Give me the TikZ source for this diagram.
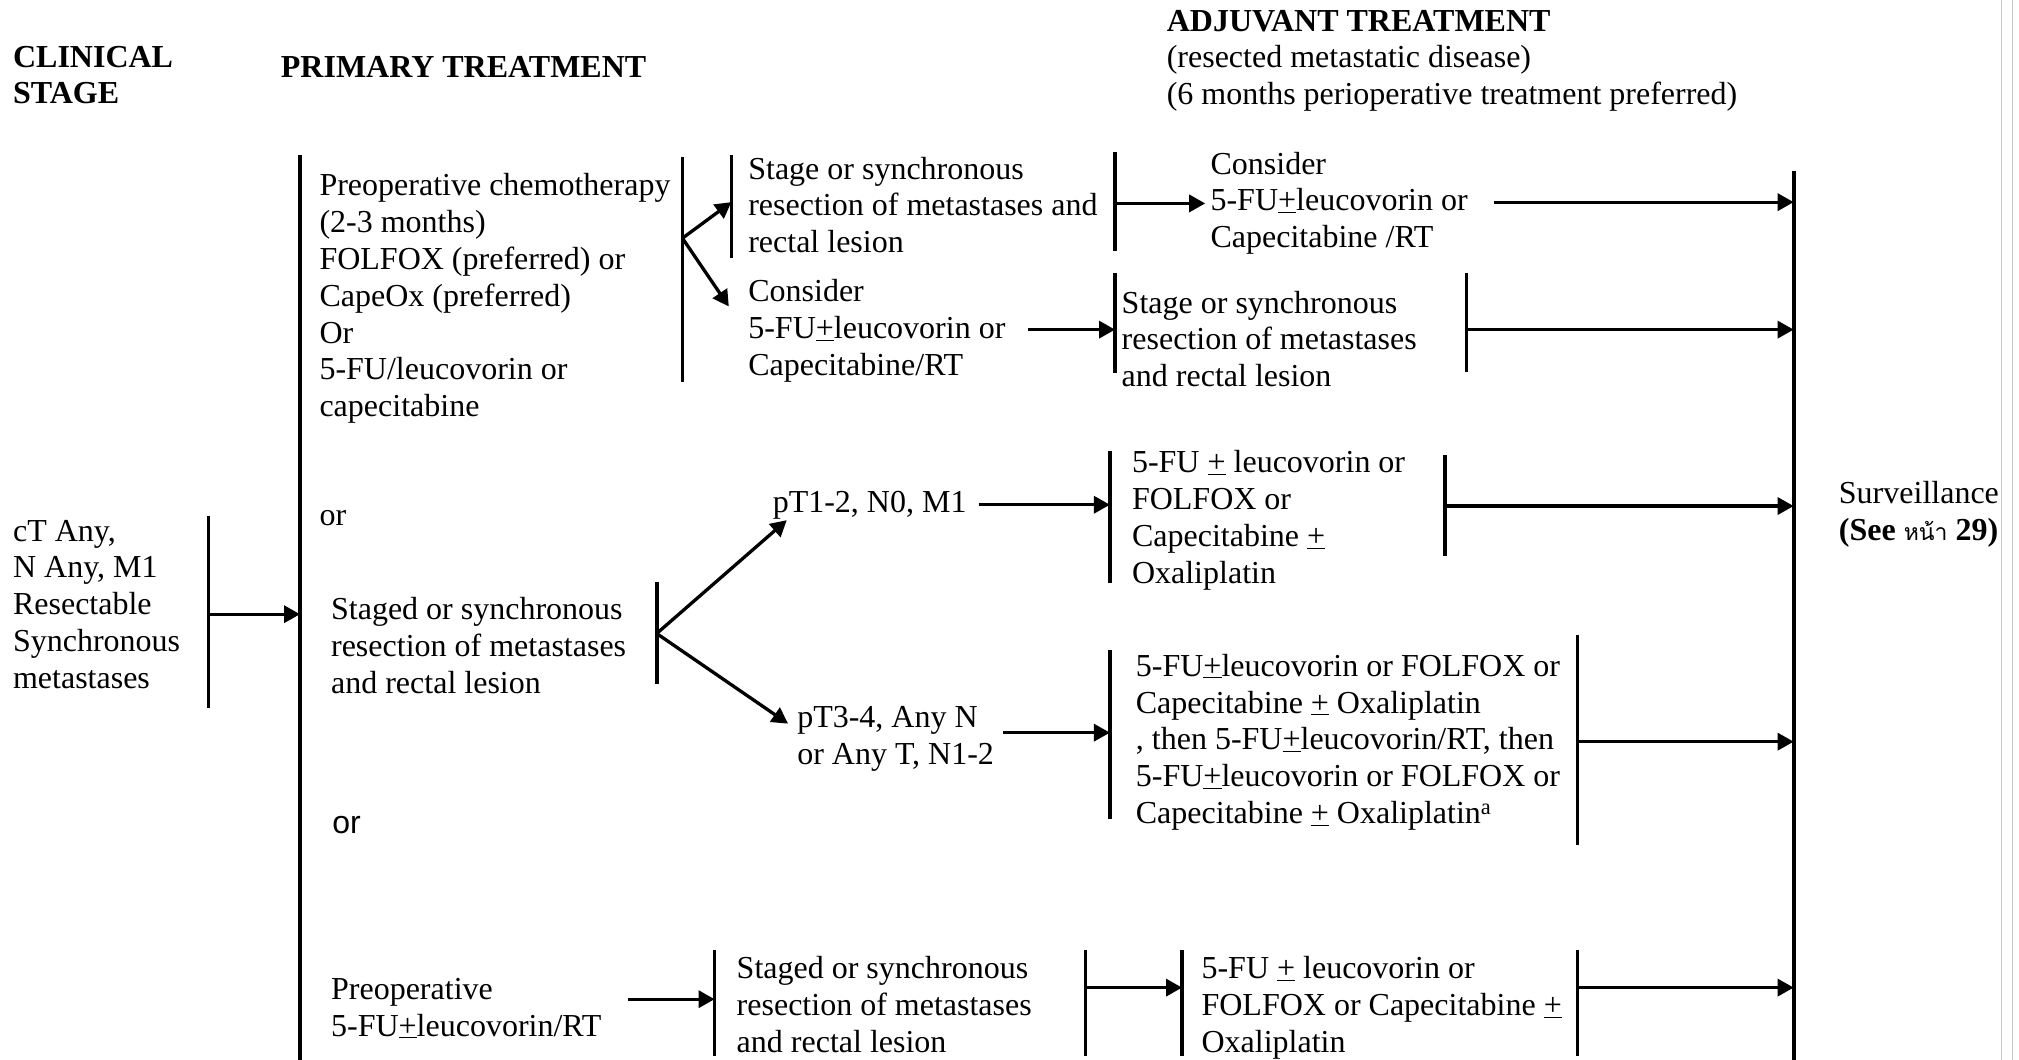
\documentclass[tikz,border=0pt]{standalone}
\usepackage{fontspec}
\setmainfont{Liberation Serif}
\newfontfamily\arialfont{Liberation Sans}
\newfontfamily\thaifont[Script=Thai]{Loma}
\usetikzlibrary{arrows.meta}

\newcommand{\upl}{\underline{+}}

\tikzset{
  txt/.style={anchor=north west, inner sep=0pt, align=left,
              font=\fontsize{32}{36.8}\selectfont},
  bar/.style={line width=3.7pt},
  arr/.style={line width=3.3pt, -{Triangle[length=16pt,width=17pt]}},
  pageline/.style={line width=1pt, draw=black!22},
}

\begin{document}
\begin{tikzpicture}[x=1.2876pt, y=-1.2876pt]
  % canvas
  \fill[white] (0,0) rectangle (1568,823);
  \path[use as bounding box] (0,0) rectangle (1568,823);

  % page edge lines on the right
  \coordinate (pe1t) at (1554.6,0);  \coordinate (pe1b) at (1554.6,823);
  \coordinate (pe2t) at (1563.1,0);  \coordinate (pe2b) at (1563.1,823);
  \draw[pageline] (pe1t) -- (pe1b);
  \draw[pageline] (pe2t) -- (pe2b);

  % ---------- column headings ----------
  \node[txt] (hclin) at (10,32)  {\strut\textbf{CLINICAL}\\\textbf{STAGE}};
  \node[txt] (hprim) at (218,40) {\strut\textbf{PRIMARY TREATMENT}};
  \node[txt] (hadj)  at (906,4)  {\strut\textbf{ADJUVANT TREATMENT}\\
      (resected metastatic disease)\\
      (6 months perioperative treatment preferred)};

  % ---------- text blocks ----------
  \node[txt] (stage) at (10,400)
    {\strut cT Any,\\N Any, M1\\Resectable\\Synchronous\\metastases};

  \node[txt] (chemo) at (248,132)
    {\strut Preoperative chemotherapy\\(2-3 months)\\FOLFOX (preferred) or\\
     CapeOx (preferred)\\Or\\5-FU/leucovorin or\\capecitabine};
  \node[txt] (or1) at (248,388) {\strut or};
  \node[txt] (staged) at (257,461)
    {\strut Staged or synchronous\\resection of metastases\\and rectal lesion};
  \node[txt] (or2) at (258,627) {\strut\arialfont or};
  \node[txt] (prert) at (257,756)
    {\strut Preoperative\\5-FU\upl leucovorin/RT};

  \node[txt] (resA) at (581,119)
    {\strut Stage or synchronous\\resection of metastases and\\rectal lesion};
  \node[txt] (consA) at (581,214)
    {\strut Consider\\5-FU\upl leucovorin or\\Capecitabine/RT};
  \node[txt] (consB) at (940,115)
    {\strut Consider\\5-FU\upl leucovorin or\\Capecitabine /RT};
  \node[txt] (resB) at (871,223)
    {\strut Stage or synchronous\\resection of metastases\\and rectal lesion};

  \node[txt] (pTa) at (600,378) {\strut pT1-2, N0, M1};
  \node[txt] (fuA) at (879,347)
    {\strut 5-FU \upl{} leucovorin or\\FOLFOX or\\Capecitabine \upl\\Oxaliplatin};
  \node[txt] (pTb) at (619,545)
    {\strut pT3-4, Any N\\or Any T, N1-2};
  \node[txt] (fuB) at (882,505)
    {\strut 5-FU\upl leucovorin or FOLFOX or\\
     Capecitabine \upl{} Oxaliplatin\\
     , then 5-FU\upl leucovorin/RT, then\\
     5-FU\upl leucovorin or FOLFOX or\\
     Capecitabine \upl{} Oxaliplatin\textsuperscript{a}};

  \node[txt] (resC) at (572,740)
    {\strut Staged or synchronous\\resection of metastases\\and rectal lesion};
  \node[txt] (fuC) at (933,740)
    {\strut 5-FU \upl{} leucovorin or\\FOLFOX or Capecitabine \upl\\Oxaliplatin};

  \node[txt] (surv) at (1428,371)
    {\strut Surveillance\\\textbf{(See {\thaifont\mdseries\fontsize{23}{26}\selectfont หน้า} 29)}};

  % ---------- brackets ----------
  \coordinate (b1t) at (162,401);   \coordinate (b1b) at (162,550);
  \coordinate (b2t) at (233,120);   \coordinate (b2b) at (233,823);
  \coordinate (b3t) at (530,122);   \coordinate (b3b) at (530,297);
  \coordinate (b4t) at (568,120);   \coordinate (b4b) at (568,200);
  \coordinate (b5t) at (866,118);   \coordinate (b5b) at (866,195);
  \coordinate (b6t) at (866,212);   \coordinate (b6b) at (866,290);
  \coordinate (b7t) at (1139,212);  \coordinate (b7b) at (1139,289);
  \coordinate (b8t) at (510,452);   \coordinate (b8b) at (510,531);
  \coordinate (b9t) at (862,350);   \coordinate (b9b) at (862,453);
  \coordinate (b10t) at (1122,353); \coordinate (b10b) at (1122,432);
  \coordinate (b11t) at (862,505);  \coordinate (b11b) at (862,636);
  \coordinate (b12t) at (1225,493); \coordinate (b12b) at (1225,656);
  \coordinate (b13t) at (555,738);  \coordinate (b13b) at (555,820);
  \coordinate (b14t) at (843,738);  \coordinate (b14b) at (843,820);
  \coordinate (b15t) at (918,738);  \coordinate (b15b) at (918,820);
  \coordinate (b16t) at (1225,738); \coordinate (b16b) at (1225,820);
  \coordinate (b17t) at (1393,133); \coordinate (b17b) at (1393,823);
  \foreach \b in {1,...,17} \draw[bar] (b\b t) -- (b\b b);

  % ---------- connector end points ----------
  \coordinate (s1) at (162,477);  \coordinate (e1) at (233,477);
  \coordinate (s2) at (530,185);  \coordinate (e2) at (568,157);
                                  \coordinate (e3) at (566,238);
  \coordinate (s4) at (866,158);  \coordinate (e4) at (936,158);
  \coordinate (s5) at (1160,157); \coordinate (e5) at (1393,157);
  \coordinate (s6) at (798,256);  \coordinate (e6) at (866,256);
  \coordinate (s7) at (1139,256); \coordinate (e7) at (1393,256);
  \coordinate (s8) at (510,492);  \coordinate (e8) at (611,404);
                                  \coordinate (e9) at (612,562);
  \coordinate (s10) at (760,392); \coordinate (e10) at (862,392);
  \coordinate (s11) at (1122,393);\coordinate (e11) at (1393,393);
  \coordinate (s12) at (779,569); \coordinate (e12) at (862,569);
  \coordinate (s13) at (1225,576);\coordinate (e13) at (1393,576);
  \coordinate (s14) at (488,776); \coordinate (e14) at (555,776);
  \coordinate (s15) at (843,767); \coordinate (e15) at (918,767);
  \coordinate (s16) at (1225,767);\coordinate (e16) at (1393,767);

  % ---------- connectors ----------
  \draw[arr] (s1) -- (e1);
  \draw[arr] (s2) -- (e2);
  \draw[arr] (s2) -- (e3);
  \draw[arr] (s4) -- (e4);
  \draw[arr] (s5) -- (e5);
  \draw[arr] (s6) -- (e6);
  \draw[arr] (s7) -- (e7);
  \draw[arr] (s8) -- (e8);
  \draw[arr] (s8) -- (e9);
  \draw[arr] (s10) -- (e10);
  \draw[arr] (s11) -- (e11);
  \draw[arr] (s12) -- (e12);
  \draw[arr] (s13) -- (e13);
  \draw[arr] (s14) -- (e14);
  \draw[arr] (s15) -- (e15);
  \draw[arr] (s16) -- (e16);
\end{tikzpicture}
\end{document}
